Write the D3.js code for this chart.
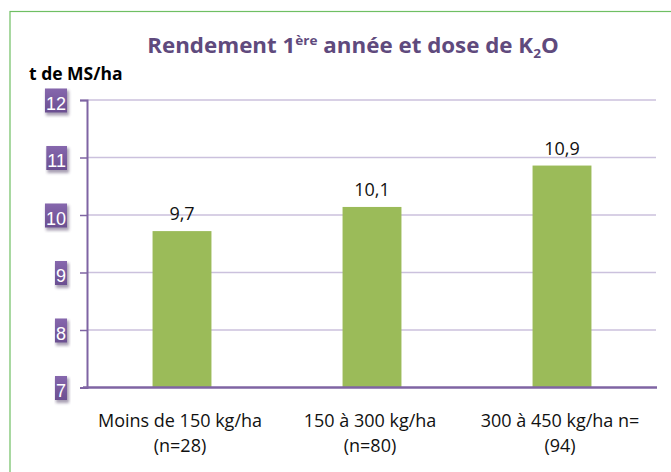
<!DOCTYPE html>
<meta charset="utf-8">
<style>
 body { margin: 0; background: #fff; }
 svg { font-family: "Open Sans", "Noto Sans", sans-serif; }
 .grid line { stroke: #cbc1dd; stroke-width: 1.5px; }
</style>
<body>
<script src="https://d3js.org/d3.v7.min.js"></script>
<script>
 // Data
 var categories = ["Moins de 150 kg/ha", "150 à 300 kg/ha", "300 à 450 kg/ha n="];
 var subLabels = ["(n=28)", "(n=80)", "(94)"];
 var values = [9.72, 10.14, 10.86];
 var yTicks = [7, 8, 9, 10, 11, 12];

 var W = 671, H = 472;
 var plotLeft = 87, plotRight = 657, plotTop = 100, plotBottom = 387.5;

 var svg = d3.select("body").append("svg")
     .attr("width", W)
     .attr("height", H);

 var defs = svg.append("defs");
 var grad = defs.append("linearGradient")
     .attr("id", "boxGrad").attr("x1", 0).attr("y1", 0).attr("x2", 0).attr("y2", 1);
 grad.append("stop").attr("offset", "0%").attr("stop-color", "#8667ad");
 grad.append("stop").attr("offset", "100%").attr("stop-color", "#6b4f91");
 defs.append("filter").attr("id", "blur")
     .append("feGaussianBlur").attr("stdDeviation", 1.5);

 // green frame, runs off the right/bottom of the picture
 svg.append("rect")
    .attr("x", 10).attr("y", 11.5)
    .attr("width", 700).attr("height", 500)
    .attr("fill", "none")
    .attr("stroke", "#6fbf63")
    .attr("stroke-width", 1.2);

 var x = d3.scaleBand()
     .domain(categories)
     .range([plotLeft, plotRight])
     .paddingInner(0.69)
     .paddingOuter(0.345);

 var y = d3.scaleLinear()
     .domain([7, 12])
     .range([plotBottom, plotTop]);

 // gridlines
 svg.append("g")
    .attr("class", "grid")
    .selectAll("line")
    .data(yTicks.filter(function (d) { return d > 7; }))
    .enter().append("line")
    .attr("x1", plotLeft).attr("x2", plotRight - 1)
    .attr("y1", function (d) { return y(d); })
    .attr("y2", function (d) { return y(d); });

 // bars
 svg.selectAll(".bar")
    .data(values)
    .enter().append("rect")
    .attr("class", "bar")
    .attr("x", function (d, i) { return x(categories[i]); })
    .attr("width", x.bandwidth())
    .attr("y", function (d) { return y(d); })
    .attr("height", function (d) { return y(7) - y(d); })
    .attr("fill", "#9bbb59");

 // value labels
 svg.selectAll(".val")
    .data(values)
    .enter().append("text")
    .attr("class", "val")
    .attr("x", function (d, i) { return x(categories[i]) + x.bandwidth() / 2; })
    .attr("y", function (d) { return y(d) - 11; })
    .attr("text-anchor", "middle")
    .attr("font-size", 18)
    .attr("fill", "#111")
    .text(function (d) { return d3.format(".1f")(d).replace(".", ","); });

 // y axis with purple boxed tick labels
 var yAxis = svg.append("g")
    .attr("transform", "translate(" + plotLeft + ",0)")
    .call(d3.axisLeft(y).tickValues(yTicks).tickSize(7).tickPadding(14).tickFormat(d3.format("d")));
 yAxis.select(".domain").attr("stroke", "#7f64a3").attr("stroke-width", 2);
 yAxis.selectAll(".tick line").attr("stroke", "#7f64a3").attr("stroke-width", 1.5);
 yAxis.selectAll(".tick text")
    .attr("fill", "#fff")
    .attr("font-size", 18)
    .attr("dy", "0.5em");
 yAxis.selectAll(".tick").each(function () {
   var t = d3.select(this), txt = t.select("text"), bb = txt.node().getBBox();
   t.insert("rect", "text")
    .attr("x", bb.x).attr("y", -10)
    .attr("width", bb.width + 3).attr("height", 25)
    .attr("fill", "#3e2c57").attr("opacity", 0.45)
    .attr("filter", "url(#blur)");
   t.insert("rect", "text")
    .attr("x", bb.x - 1).attr("y", -12)
    .attr("width", bb.width + 2).attr("height", 24)
    .attr("fill", "url(#boxGrad)");
 });

 // x axis line
 svg.append("line")
    .attr("x1", plotLeft - 4).attr("x2", plotRight)
    .attr("y1", plotBottom).attr("y2", plotBottom)
    .attr("stroke", "#7f64a3").attr("stroke-width", 2.5);

 // category labels, two lines each
 var xl = svg.append("g").selectAll("text")
    .data(categories)
    .enter().append("text")
    .attr("text-anchor", "middle")
    .attr("font-size", 18)
    .attr("fill", "#111")
    .attr("x", function (d) { return x(d) + x.bandwidth() / 2 - 2; })
    .attr("y", 427);
 xl.append("tspan").text(function (d) { return d; });
 xl.append("tspan")
   .attr("x", function (d) { return x(d) + x.bandwidth() / 2 - 2; })
   .attr("dy", 24.5)
   .text(function (d, i) { return subLabels[i]; });

 // title (slightly widened to match the original lettering)
 var title = svg.append("g")
    .attr("transform", "translate(353,53) scale(1.09,1)")
    .append("text")
    .attr("text-anchor", "middle")
    .attr("font-size", 20.5)
    .attr("font-weight", "bold")
    .attr("fill", "#5f4a7d");
 title.append("tspan").text("Rendement 1");
 title.append("tspan").attr("dy", -8).attr("font-size", 12.5).text("ère");
 title.append("tspan").attr("dy", 8).text(" année et dose de K");
 title.append("tspan").attr("dy", 5).attr("font-size", 12.5).text("2");
 title.append("tspan").attr("dy", -5).text("O");

 // y unit
 svg.append("text")
    .attr("x", 29).attr("y", 80)
    .attr("font-size", 17.5)
    .attr("font-weight", "bold")
    .attr("fill", "#000")
    .text("t de MS/ha");
</script>
</body>
